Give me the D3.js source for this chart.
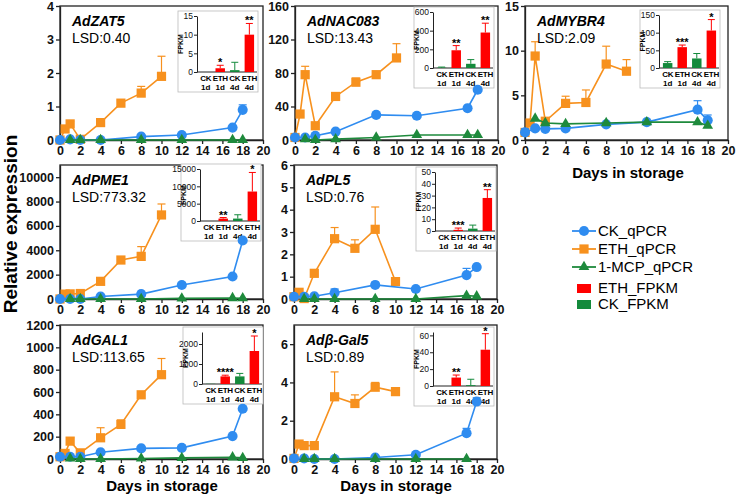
<!DOCTYPE html>
<html>
<head>
<meta charset="utf-8">
<script src="https://cdn.jsdelivr.net/npm/d3@7"></script>
<style>
  body { margin: 0; background: #fff; }
  svg { font-family: "Liberation Sans", Arial, sans-serif; }
</style>
</head>
<body>
<div id="chart"></div>
<script>
// ---- data ----
var genes = ["AdZAT5", "AdNAC083", "AdMYBR4", "AdPME1", "AdPL5", "AdGAL1", "Adβ-Gal5"];
var lsd = ["0.40", "13.43", "2.09", "773.32", "0.76", "113.65", "0.89"];
var yMax = [4, 160, 15, 11000, 6, 1200, 7];
var yStep = [1, 40, 5, 2000, 1, 200, 2];
var xTicks = [0, 2, 4, 6, 8, 10, 12, 14, 16, 18, 20];

var daysCK = [0, 1, 2, 4, 8, 12, 17, 18];
var daysETH = [0, 0.5, 1, 2, 4, 6, 8, 10];
var daysMCP = [1, 2, 4, 8, 12, 17, 18];

// qPCR means, one row per gene
var ckQPCR = [
  [0, 0.02, 0, 0, 0.1, 0.15, 0.37, 0.9],
  [3, 3, 5, 10, 30, 29, 38, 60],
  [0.85, 1.3, 1.25, 1.3, 1.75, 2.0, 3.4, 2.2],
  [0, 0, 0, 200, 400, 1150, 1850, 4800],
  [0.1, 0.1, 0.12, 0.28, 0.63, 0.45, 1.07, 1.43],
  [20, 20, 20, 60, 95, 100, 205, 450],
  [0.03, 0.03, 0, 0, 0.08, 0.22, 1.35, 3.0]
];
var ckErr = [
  [0, 0, 0, 0, 0, 0, 0, 0.15],
  [0, 0, 0, 0, 0, 0, 0, 0],
  [0.4, 0, 0, 0, 0, 0, 1.0, 0.6],
  [0, 0, 0, 0, 0, 200, 0, 0],
  [0, 0, 0, 0.17, 0.12, 0, 0.3, 0],
  [0, 0, 0, 0, 0, 0, 0, 0],
  [0, 0, 0, 0, 0, 0, 0.25, 0.2]
];
var ethQPCR = [
  [0, 0.33, 0.48, 0.02, 0.52, 1.1, 1.4, 1.9],
  [3, 31, 78, 17, 52, 69, 78, 98],
  [0.85, 1.9, 9.4, 2.1, 4.1, 4.2, 8.5, 7.7],
  [0, 400, 420, 450, 1450, 3200, 3500, 6900],
  [0.1, 0.3, 0.02, 1.15, 2.7, 2.27, 3.12, 0.78],
  [20, 50, 160, 55, 190, 310, 575, 755],
  [0.03, 0.78, 0.7, 0.7, 3.25, 2.9, 3.75, 3.52]
];
var ethErr = [
  [0, 0, 0.07, 0, 0, 0.07, 0.2, 0.6],
  [0, 0, 10, 0, 0, 5, 0, 17],
  [0, 0, 1.6, 0, 0.8, 1.4, 2.0, 1.3],
  [0, 0, 0, 0, 0, 0, 800, 900],
  [0, 0, 0, 0, 0.5, 0.38, 1.0, 0],
  [0, 0, 30, 0, 90, 40, 0, 145],
  [0, 0, 0, 0, 1.3, 0.45, 0.25, 0]
];
var mcpQPCR = [
  [0, 0, 0, 0, 0, 0, 0],
  [1, 0, 1, 3, 6, 6, 6],
  [2.4, 1.9, 1.8, 1.9, 2.0, 2.0, 1.6],
  [0, 0, 0, 0, 50, 80, 60],
  [0, 0, 0, 0, 0, 0.15, 0.12],
  [5, 0, 0, 5, 10, 15, 10],
  [0, 0, 0, 0, 0, 0, null]
];

// FPKM insets: [1d, 4d]
var fpkmGroups = ["CK 1d", "ETH 1d", "CK 4d", "ETH 4d"];
var fpkmMax = [15, 600, 150, 15000, 50, 2600, 64];
var fpkmStep = [5, 200, 50, 5000, 10, 1000, 20];
var fpkmCK = [[0, 0.5], [3, 45], [14, 27], [0, 700], [0, 2], [10, 380], [0, 1]];
var fpkmCKErr = [[0, 2.1], [7, 45], [4, 14], [0, 1100], [0, 3], [0, 150], [0, 7]];
var fpkmETH = [[1, 10], [190, 380], [59, 106], [700, 8500], [1, 28], [380, 1650], [10, 43]];
var fpkmETHErr = [[0.8, 3], [50, 100], [6, 31], [300, 5500], [1.5, 7], [60, 750], [3, 19]];
var fpkmStars = [["*", "**"], ["**", "**"], ["***", "*"], ["**", "*"], ["***", "**"], ["****", "*"], ["**", "*"]];

// ---- layout ----
var W = 738, H = 498;
var panelPos = [[60, 6], [295, 6], [525, 6], [60, 165], [294, 165], [60, 325], [294, 325]];
var pw = 203, ph = 134;
var insetPos = [[137, 10, 66], [138, 6, 62], [134, 9, 62], [140, 4, 56], [141, 7, 66], [142, 7, 59], [139, 7, 61]];
var insetW = 60;

var colCK = "#2f8cf0", colETH = "#f7911e", colMCP = "#1e8a3c";
var colRed = "#ff0000", colGreen = "#148a3c";
var fmt = d3.format("d");

var svg = d3.select("#chart").append("svg")
    .attr("width", W).attr("height", H);

var x = d3.scaleLinear().domain([0, 20]).range([0, pw]);

genes.forEach(function (gene, i) {
    var g = svg.append("g")
        .attr("transform", "translate(" + panelPos[i][0] + "," + panelPos[i][1] + ")");
    var y = d3.scaleLinear().domain([0, yMax[i]]).range([ph, 0]);

    // frame
    g.append("rect").attr("width", pw).attr("height", ph)
        .attr("fill", "none").attr("stroke", "#222").attr("stroke-width", 1.3);

    drawInset(g, i);

    var yAxis = d3.axisLeft(y).tickValues(d3.range(0, yMax[i] + 1e-9, yStep[i]))
        .tickFormat(fmt).tickSize(4).tickSizeOuter(0).tickPadding(2);
    var xAxis = d3.axisBottom(x).tickValues(xTicks).tickFormat(fmt)
        .tickSize(4).tickSizeOuter(0).tickPadding(2);
    g.append("g").call(yAxis).call(styleAxis, 12.5);
    g.append("g").attr("transform", "translate(0," + ph + ")").call(xAxis).call(styleAxis, 12.5);

    // series: ETH, CK, 1-MCP
    drawSeries(g, y, daysETH, ethQPCR[i], ethErr[i], colETH, d3.symbolSquare, 85);
    drawSeries(g, y, daysCK, ckQPCR[i], ckErr[i], colCK, d3.symbolCircle, 80);
    drawSeries(g, y, daysMCP, mcpQPCR[i], null, colMCP, d3.symbolTriangle, 50);

    g.append("text").attr("x", 12).attr("y", 20)
        .attr("font-size", 14).attr("font-weight", "bold").attr("font-style", "italic")
        .text(gene);
    g.append("text").attr("x", 12).attr("y", 37)
        .attr("font-size", 14).text("LSD:" + lsd[i]);
});

function styleAxis(sel, fs) {
    sel.selectAll("path, line").attr("stroke", "#222").attr("stroke-width", 1.3);
    sel.selectAll("text").attr("font-size", fs).attr("font-weight", "bold").attr("fill", "#111");
    sel.attr("font-family", null);
}

function drawSeries(g, y, days, vals, errs, color, shape, size) {
    var pts = days.map(function (d, k) {
        return { d: d, v: vals[k], e: errs ? errs[k] : 0 };
    }).filter(function (p) { return p.v !== null; });

    g.append("path").datum(pts)
        .attr("fill", "none").attr("stroke", color).attr("stroke-width", 1.6)
        .attr("d", d3.line().x(function (p) { return x(p.d); }).y(function (p) { return y(p.v); }));

    var eb = g.append("g").attr("stroke", color).attr("stroke-width", 1.2);
    pts.filter(function (p) { return p.e > 0; }).forEach(function (p) {
        var cx = x(p.d), top = y(p.v + p.e);
        eb.append("line").attr("x1", cx).attr("x2", cx).attr("y1", y(p.v)).attr("y2", top);
        eb.append("line").attr("x1", cx - 4).attr("x2", cx + 4).attr("y1", top).attr("y2", top);
    });

    g.selectAll(null).data(pts).enter().append("path")
        .attr("transform", function (p) { return "translate(" + x(p.d) + "," + y(p.v) + ")"; })
        .attr("d", d3.symbol().type(shape).size(size))
        .attr("fill", color);
}

function drawInset(g, i) {
    var ox = insetPos[i][0], top = insetPos[i][1], bot = insetPos[i][2];
    var ig = g.append("g").attr("transform", "translate(" + ox + ",0)");

    ig.append("rect").attr("x", -19).attr("y", top - 5)
        .attr("width", insetW + 20).attr("height", bot - top + 25)
        .attr("fill", "#fff").attr("stroke", "#bbb").attr("stroke-width", 0.8);

    var yi = d3.scaleLinear().domain([0, fpkmMax[i]]).range([bot, top]);
    var xb = d3.scaleBand().domain(fpkmGroups).range([1, insetW]).paddingInner(0.35).paddingOuter(0.2);

    var ax = d3.axisLeft(yi).tickValues(d3.range(0, fpkmMax[i] + 1e-9, fpkmStep[i]))
        .tickFormat(fmt).tickSize(3).tickSizeOuter(0).tickPadding(1);
    ig.append("g").call(ax).call(function (s) {
        s.selectAll("path, line").attr("stroke", "#222").attr("stroke-width", 1);
        s.selectAll("text").attr("font-size", 8.5).attr("fill", "#111");
        s.attr("font-family", null);
    });
    ig.append("line").attr("x1", 0).attr("x2", insetW).attr("y1", bot).attr("y2", bot)
        .attr("stroke", "#222").attr("stroke-width", 1);

    var bars = [
        { k: fpkmGroups[0], v: fpkmCK[i][0], e: fpkmCKErr[i][0], c: colGreen, s: "" },
        { k: fpkmGroups[1], v: fpkmETH[i][0], e: fpkmETHErr[i][0], c: colRed, s: fpkmStars[i][0] },
        { k: fpkmGroups[2], v: fpkmCK[i][1], e: fpkmCKErr[i][1], c: colGreen, s: "" },
        { k: fpkmGroups[3], v: fpkmETH[i][1], e: fpkmETHErr[i][1], c: colRed, s: fpkmStars[i][1] }
    ];
    bars.forEach(function (b) {
        var bx = xb(b.k), bw = xb.bandwidth(), cx = bx + bw / 2;
        ig.append("rect").attr("x", bx).attr("y", yi(b.v)).attr("width", bw)
            .attr("height", bot - yi(b.v)).attr("fill", b.c);
        var t = yi(Math.min(b.v + b.e, fpkmMax[i] * 1.02));
        if (b.e > 0) {
            ig.append("line").attr("x1", cx).attr("x2", cx).attr("y1", yi(b.v)).attr("y2", t)
                .attr("stroke", b.c).attr("stroke-width", 1);
            ig.append("line").attr("x1", cx - 3.5).attr("x2", cx + 3.5).attr("y1", t).attr("y2", t)
                .attr("stroke", b.c).attr("stroke-width", 1);
        }
        if (b.s) {
            ig.append("text").attr("x", cx).attr("y", t + 1).attr("text-anchor", "middle")
                .attr("font-size", 11).attr("font-weight", "bold").text(b.s);
        }
        var parts = b.k.split(" ");
        ig.append("text").attr("x", cx).attr("y", bot + 9).attr("text-anchor", "middle")
            .attr("font-size", 8).attr("font-weight", "bold").attr("letter-spacing", -0.3)
            .text(parts[0]);
        ig.append("text").attr("x", cx).attr("y", bot + 18).attr("text-anchor", "middle")
            .attr("font-size", 8).attr("font-weight", "bold").text(parts[1]);
    });

    ig.append("text").attr("transform", "translate(-14," + ((top + bot) / 2) + ") rotate(-90)")
        .attr("text-anchor", "middle").attr("font-size", 7).attr("font-weight", "bold")
        .text("FPKM");
}

// axis titles
svg.append("text").attr("transform", "translate(17,224) rotate(-90)")
    .attr("text-anchor", "middle").attr("font-size", 19).attr("font-weight", "bold")
    .text("Relative expression");
[[162, 491], [396, 491], [628, 178]].forEach(function (p) {
    svg.append("text").attr("x", p[0]).attr("y", p[1]).attr("text-anchor", "middle")
        .attr("font-size", 15).attr("font-weight", "bold").text("Days in storage");
});

// legend
var legLines = [
    { name: "CK_qPCR", color: colCK, shape: d3.symbolCircle, size: 80 },
    { name: "ETH_qPCR", color: colETH, shape: d3.symbolSquare, size: 85 },
    { name: "1-MCP_qPCR", color: colMCP, shape: d3.symbolTriangle, size: 50 }
];
var leg = svg.append("g").attr("transform", "translate(572,231)");
legLines.forEach(function (l, k) {
    var row = leg.append("g").attr("transform", "translate(0," + k * 18 + ")");
    row.append("line").attr("x1", 0).attr("x2", 24).attr("stroke", l.color).attr("stroke-width", 1.8);
    row.append("path").attr("transform", "translate(12,0)")
        .attr("d", d3.symbol().type(l.shape).size(l.size)).attr("fill", l.color);
    row.append("text").attr("x", 26).attr("y", 5).attr("font-size", 15).text(l.name);
});
[{ name: "ETH_FPKM", color: colRed }, { name: "CK_FPKM", color: colGreen }].forEach(function (l, k) {
    var row = leg.append("g").attr("transform", "translate(0," + (57 + k * 16) + ")");
    row.append("rect").attr("x", 5).attr("y", -4).attr("width", 14).attr("height", 9).attr("fill", l.color);
    row.append("text").attr("x", 26).attr("y", 5).attr("font-size", 15).text(l.name);
});
</script>
</body>
</html>
